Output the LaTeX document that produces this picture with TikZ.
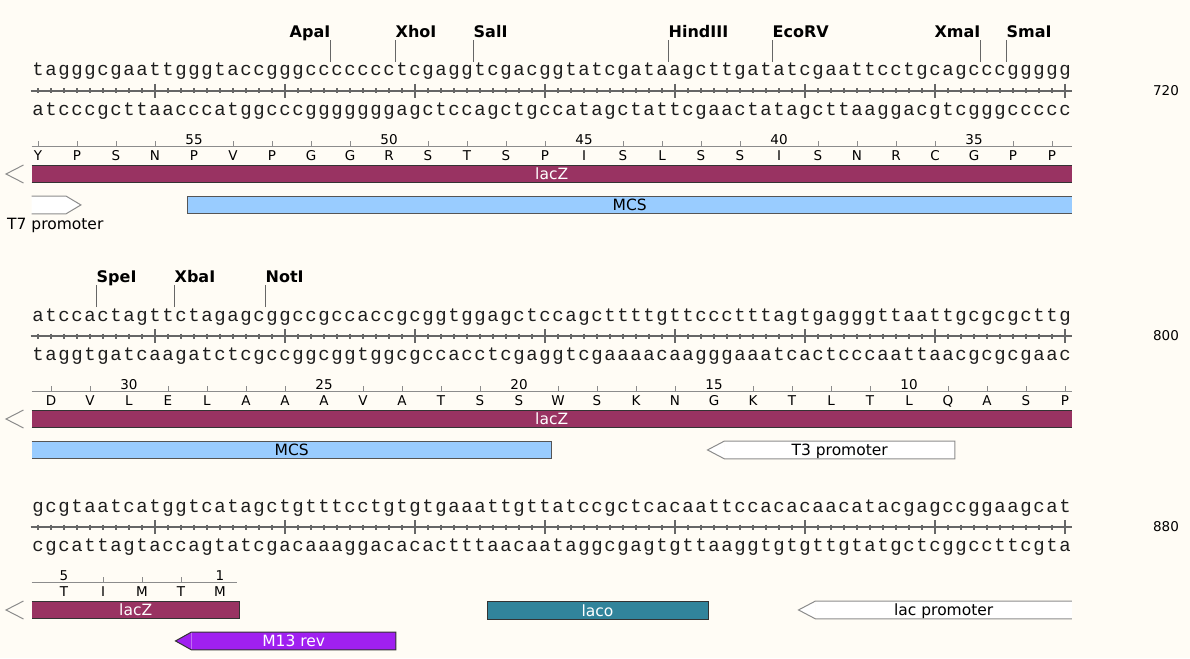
\documentclass[tikz,border=0pt]{standalone}
\usepackage{fontspec}
\setmainfont{DejaVu Sans}
\newfontfamily\seqfont{Liberation Mono}
\usetikzlibrary{positioning,calc}

\definecolor{creamback}{RGB}{255,252,245}
\definecolor{lacred}{RGB}{153,51,98}
\definecolor{mcsblue}{RGB}{153,204,255}
\definecolor{lacoteal}{RGB}{49,132,155}
\definecolor{mviolet}{RGB}{160,32,240}
\definecolor{rulegray}{RGB}{102,102,102}
\definecolor{aagray}{RGB}{140,140,140}
\definecolor{promgray}{RGB}{140,140,140}
\definecolor{mcsgray}{RGB}{85,85,85}
\definecolor{edgedark}{RGB}{51,51,51}
\definecolor{seqink}{RGB}{30,30,30}

% one base = one 13pt box
\makeatletter
\def\seqstr#1{\seq@step#1\@nil}
\def\seq@step#1{\ifx#1\@nil\else\hbox to 13pt{\hss#1\hss}\expandafter\seq@step\fi}
\makeatother

\begin{document}
\begin{tikzpicture}[
  x=1pt, y=-1pt,
  every node/.style={inner sep=0pt},
  seq/.style={font=\seqfont\fontsize{19}{22}\selectfont, text=seqink, anchor=base west},
  enz/.style={font=\bfseries\fontsize{16}{19}\selectfont, text depth=0pt},
  stem/.style={rulegray, line width=0.9pt, shorten >=3pt},
  ruler/.style={rulegray, line width=1.4pt},
  aaline/.style={aagray, line width=1pt},
  aa/.style={font=\fontsize{13.5}{16}\selectfont, anchor=base},
  rownum/.style={font=\fontsize{13.5}{16}\selectfont},
  lab/.style={font=\fontsize{15.5}{18}\selectfont},
  feat/.style={rectangle, anchor=north west, minimum height=17.5pt,
    font=\fontsize{15.5}{18}\selectfont, text height=12pt, text depth=0pt},
  bar/.style={edgedark, line width=1pt},
  mcsline/.style={mcsgray, line width=1pt},
  prom/.style={promgray, line width=1pt},
  chev/.style={aagray, line width=1pt}
]
  \useasboundingbox[fill=creamback] (0,0) rectangle (1190,658);

  %% ── Rulers and positions ─────────────────────────────────
  \foreach \dy/\rn in {0/720, 245/800, 436/880}{
    \draw[ruler] (30.5,{91+\dy}) -- (1071.5,{91+\dy});
    \foreach \i in {0,...,79}
      \draw[ruler, line width=1.2pt] ({38+13*\i},{88.5+\dy}) -- ++(0,5);
    \foreach \i in {9,19,...,79}
      \draw[ruler] ({38+13*\i},{84+\dy}) -- ++(0,14);
    \node[rownum] (n\rn) at (1166,{91+\dy}) {\rn};
  }

  %% ── Row 1 ────────────────────────────────────────────────
  \node[seq] (top1) at (31.5,76)
    {\seqstr{tagggcgaattgggtaccgggccccccctcgaggtcgacggtatcgataagcttgatatcgaattcctgcagcccggggg}};
  \node[seq] (bot1) at (31.5,115.5)
    {\seqstr{atcccgcttaacccatggcccgggggggagctccagctgccatagctattcgaactatagcttaaggacgtcgggccccc}};

  \foreach \en/\k/\a in {ApaI/23/south east, XhoI/28/south west, SalI/34/south west,
      HindIII/49/south west, EcoRV/57/south west, XmaI/73/south east, SmaI/75/south west}{
    \coordinate (c\en) at ({31.5+13*\k},62);
    \node[enz, anchor=\a] (\en) at ({31.5+13*\k},37.3) {\en};
    \draw[stem] (c\en) -- (c\en |- \en.south);
  }

  \draw[aaline] (31.5,146) -- (1071.5,146);
  \foreach \i in {0,3,6,9,15,18,21,24,30,33,36,39,45,48,51,54,60,63,66,69,75,78}
    \draw[aaline] ({38+13*\i},141) -- ++(0,5);
  \foreach \n/\i in {55/12, 50/27, 45/42, 40/57, 35/72}
    \node[aa] (num1-\n) at ({38+13*\i},144) {\n};
  \foreach \a [count=\c from 0] in {Y,P,S,N,P,V,P,G,G,R,S,T,S,P,I,S,L,S,S,I,S,N,R,C,G,P,P}
    \node[aa] (aa1-\c) at ({38+39*\c},160.5) {\a};

  \draw[chev] (23.5,165) -- (6,174) -- (23.5,183);
  \node[feat, fill=lacred, text=white, minimum width=1040pt] (lacz1) at (31.5,165) {lacZ};
  \draw[bar] (lacz1.north west) -- (lacz1.north east) (lacz1.south west) -- (lacz1.south east);

  \node[feat, minimum width=34pt] (t7) at (31.5,196) {};
  \coordinate[right=15pt of t7.east] (t7tip);
  \filldraw[prom, fill=white] (t7.north west) -- (t7.north east) -- (t7tip)
    -- (t7.south east) -- (t7.south west);
  \node[lab, anchor=base west] (t7lab) at (7,229.5) {T7 promoter};

  \node[feat, fill=mcsblue, minimum width=884pt] (mcs1) at (187.5,196) {MCS};
  \draw[mcsline] (mcs1.north east) -- (mcs1.north west) -- (mcs1.south west) -- (mcs1.south east);

  %% ── Row 2 ────────────────────────────────────────────────
  \node[seq] (top2) at (31.5,321)
    {\seqstr{atccactagttctagagcggccgccaccgcggtggagctccagcttttgttccctttagtgagggttaattgcgcgcttg}};
  \node[seq] (bot2) at (31.5,360.5)
    {\seqstr{taggtgatcaagatctcgccggcggtggcgccacctcgaggtcgaaaacaagggaaatcactcccaattaacgcgcgaac}};

  \foreach \en/\k in {SpeI/5, XbaI/11, NotI/18}{
    \coordinate (c\en) at ({31.5+13*\k},307);
    \node[enz, anchor=south west] (\en) at ({31.5+13*\k},282.3) {\en};
    \draw[stem] (c\en) -- (c\en |- \en.south);
  }

  \draw[aaline] (31.5,391) -- (1071.5,391);
  \foreach \i in {1,4,10,13,16,19,25,28,31,34,40,43,46,49,55,58,61,64,70,73,76,79}
    \draw[aaline] ({38+13*\i},386) -- ++(0,5);
  \foreach \n/\i in {30/7, 25/22, 20/37, 15/52, 10/67}
    \node[aa] (num2-\n) at ({38+13*\i},389) {\n};
  \foreach \a [count=\c from 0] in {D,V,L,E,L,A,A,A,V,A,T,S,S,W,S,K,N,G,K,T,L,T,L,Q,A,S,P}
    \node[aa] (aa2-\c) at ({51+39*\c},405.5) {\a};

  \draw[chev] (23.5,410) -- (6,419) -- (23.5,428);
  \node[feat, fill=lacred, text=white, minimum width=1040pt] (lacz2) at (31.5,410) {lacZ};
  \draw[bar] (lacz2.north west) -- (lacz2.north east) (lacz2.south west) -- (lacz2.south east);

  \node[feat, fill=mcsblue, minimum width=520pt] (mcs2) at (31.5,441) {MCS};
  \draw[mcsline] (mcs2.north west) -- (mcs2.north east) -- (mcs2.south east) -- (mcs2.south west);

  \node[feat, fill=white, minimum width=230pt] (t3) at (724.5,441) {T3 promoter};
  \coordinate[left=17pt of t3.west] (t3tip);
  \fill[white] (t3.north west) -- (t3tip) -- (t3.south west) -- cycle;
  \draw[prom] (t3.north west) -- (t3tip) -- (t3.south west) -- (t3.south east)
    -- (t3.north east) -- cycle;

  %% ── Row 3 ────────────────────────────────────────────────
  \node[seq] (top3) at (31.5,512)
    {\seqstr{gcgtaatcatggtcatagctgtttcctgtgtgaaattgttatccgctcacaattccacacaacatacgagccggaagcat}};
  \node[seq] (bot3) at (31.5,551.5)
    {\seqstr{cgcattagtaccagtatcgacaaaggacacactttaacaataggcgagtgttaaggtgtgttgtatgctcggccttcgta}};

  \draw[aaline] (31.5,582) -- (237,582);
  \foreach \i in {5,8,11}
    \draw[aaline] ({38+13*\i},577) -- ++(0,5);
  \foreach \n/\i in {5/2, 1/14}
    \node[aa] (num3-\n) at ({38+13*\i},580) {\n};
  \foreach \a [count=\c from 0] in {T,I,M,T,M}
    \node[aa] (aa3-\c) at ({64+39*\c},596.5) {\a};

  \draw[chev] (23.5,601) -- (6,610) -- (23.5,619);
  \node[feat, fill=lacred, text=white, minimum width=208pt] (lacz3) at (31.5,601) {lacZ};
  \draw[bar] (lacz3.north west) -- (lacz3.north east) -- (lacz3.south east) -- (lacz3.south west);

  \node[feat, fill=lacoteal, draw=edgedark, line width=1pt, text=white,
        minimum width=221pt] (laco) at (486.5,601) {laco};

  \node[feat, fill=white, minimum width=256pt] (lacp) at (815.5,601) {lac promoter};
  \coordinate[left=17pt of lacp.west] (lacptip);
  \fill[white] (lacp.north west) -- (lacptip) -- (lacp.south west) -- cycle;
  \draw[prom] (lacp.north east) -- (lacp.north west) -- (lacptip) -- (lacp.south west)
    -- (lacp.south east);

  \node[feat, fill=mviolet, text=white, minimum width=204pt] (m13) at (191.5,632) {M13 rev};
  \coordinate[left=16pt of m13.west] (m13tip);
  \fill[mviolet] (m13.north west) -- (m13tip) -- (m13.south west) -- cycle;
  \draw[bar] (m13.north west) -- (m13tip) -- (m13.south west) -- (m13.south east)
    -- (m13.north east) -- cycle;

\end{tikzpicture}
\end{document}
